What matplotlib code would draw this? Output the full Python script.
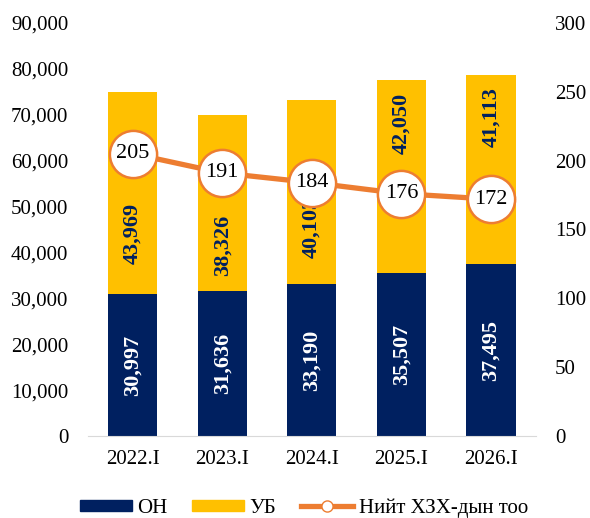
import numpy as np
import matplotlib.pyplot as plt
from matplotlib.lines import Line2D
from matplotlib.patches import Patch

plt.rcParams['font.family'] = ['Liberation Serif', 'DejaVu Serif']

periods = ["2022.I", "2023.I", "2024.I", "2025.I", "2026.I"]
on_vals = [30997, 31636, 33190, 35507, 37495]
ub_vals = [43969, 38326, 40103, 42050, 41113]
total_cnt = [205, 191, 184, 176, 172]
# where the УБ labels sit (moved by hand in the original to clear the markers)
ub_label_y = [44200, 41600, 45500, 68000, 69500]

navy = "#002060"
gold = "#FFC000"
orange = "#ED7D31"

fig = plt.figure(figsize=(5.9, 5.18), dpi=100)
ax = fig.add_axes([0.149, 0.158, 0.759, 0.798])
x = np.arange(len(periods))

ax.bar(x, on_vals, width=0.55, color=navy)
ax.bar(x, ub_vals, width=0.55, bottom=on_vals, color=gold)

for i in range(len(x)):
    ax.text(x[i], on_vals[i] / 2, f"{on_vals[i]:,}", rotation=90, ha="center", va="center",
            color="white", fontsize=16, fontweight="bold")
    ax.text(x[i], ub_label_y[i], f"{ub_vals[i]:,}", rotation=90, ha="center", va="center",
            color=navy, fontsize=16, fontweight="bold")

ax.set_xlim(-0.5, 4.5)
ax.set_ylim(0, 90000)
ax.set_yticks(range(0, 90001, 10000))
ax.set_yticklabels([f"{v:,}" for v in range(0, 90001, 10000)])
ax.set_xticks(x)
ax.set_xticklabels(periods)
ax.tick_params(axis="both", length=0, labelsize=15)
ax.tick_params(axis="y", pad=14)
ax.tick_params(axis="x", pad=10)
for s in ["top", "right", "left"]:
    ax.spines[s].set_visible(False)
ax.spines["bottom"].set_color("#D9D9D9")

ax2 = ax.twinx()
ax2.plot(x, total_cnt, color=orange, linewidth=3.8, marker="o", markersize=34,
         markerfacecolor="white", markeredgecolor=orange, markeredgewidth=1.8)
for i in range(len(x)):
    ax2.text(x[i], total_cnt[i], str(total_cnt[i]), ha="center", va="center", fontsize=16)
ax2.set_ylim(0, 300)
ax2.set_yticks(range(0, 301, 50))
ax2.tick_params(axis="y", length=0, labelsize=15, pad=14)
for s in ax2.spines.values():
    s.set_visible(False)

handles = [Patch(color=navy, label="ОН"), Patch(color=gold, label="УБ"),
           Line2D([0], [0], color=orange, linewidth=3.8, marker="o", markersize=8,
                  markerfacecolor="white", markeredgecolor=orange, label="Нийт ХЗХ-дын тоо")]
fig.legend(handles=handles, loc="center", bbox_to_anchor=(0.515, 0.019), ncol=3, frameon=False,
           fontsize=15, handlelength=2.5, handleheight=0.5, handletextpad=0.25,
           columnspacing=1.2)

fig.savefig("out.png", dpi=100)
